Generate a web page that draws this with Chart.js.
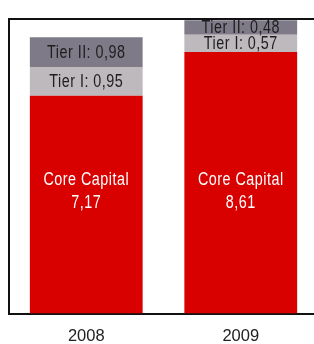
<!DOCTYPE html>
<html>
<head>
<meta charset="utf-8">
<script src="https://cdn.jsdelivr.net/npm/chart.js@4/dist/chart.umd.min.js"></script>
<style>
  html, body { margin: 0; padding: 0; background: #fff; overflow: hidden; }
  #wrap { width: 314px; height: 344px; overflow: hidden; }
</style>
</head>
<body>
<div id="wrap"><canvas id="chart" width="318" height="344"></canvas></div>
<script>
const years = ["2008", "2009"];
const coreCapital = [7.17, 8.61];
const tierOne = [0.95, 0.57];
const tierTwo = [0.98, 0.48];
const seriesNames = ["Core Capital", "Tier I", "Tier II"];

const FONT = "'Liberation Sans', Arial, sans-serif";

function fmt(v) {
  return v.toFixed(2).replace(".", ",");
}

// squeezed text, the original uses a narrow face
function narrowText(ctx, txt, x, y) {
  ctx.save();
  ctx.translate(x, y);
  ctx.scale(0.82, 1);
  ctx.fillText(txt, 0, 0);
  ctx.restore();
}

// labels inside the stacked segments + frame line on top
const labelPlugin = {
  id: "segLabels",
  afterDatasetsDraw(chart) {
    const ctx = chart.ctx;
    const y = chart.scales.y;
    ctx.save();
    ctx.textAlign = "center";
    ctx.textBaseline = "middle";
    ctx.font = "17.5px " + FONT;
    if ("letterSpacing" in ctx) ctx.letterSpacing = "0.6px";

    chart.data.datasets.forEach((ds, di) => {
      const meta = chart.getDatasetMeta(di);
      meta.data.forEach((bar, i) => {
        const v = ds.data[i];
        if (di === 0) {
          ctx.fillStyle = "#ffffff";
          narrowText(ctx, ds.label, bar.x, y.getPixelForValue(4.4));
          narrowText(ctx, fmt(v), bar.x, y.getPixelForValue(3.62));
        } else {
          ctx.fillStyle = "#1e1e1e";
          const mid = (bar.y + bar.base) / 2;
          narrowText(ctx, ds.label + ": " + fmt(v), bar.x, mid + 1);
        }
      });
    });
    ctx.restore();
  },
  afterDraw(chart) {
    const ctx = chart.ctx;
    const a = chart.chartArea;
    ctx.save();
    ctx.strokeStyle = "#111";
    ctx.lineWidth = 2;
    ctx.beginPath();
    ctx.moveTo(a.left - 1, a.top);
    ctx.lineTo(chart.width, a.top);
    ctx.stroke();
    ctx.restore();
  }
};

new Chart(document.getElementById("chart"), {
  type: "bar",
  data: {
    labels: years,
    datasets: [
      { label: seriesNames[0], data: coreCapital, backgroundColor: "#d90000" },
      { label: seriesNames[1], data: tierOne, backgroundColor: "#bdb9bc" },
      { label: seriesNames[2], data: tierTwo, backgroundColor: "#7f7a88" }
    ]
  },
  options: {
    responsive: false,
    animation: false,
    categoryPercentage: 1,
    barPercentage: 0.73,
    layout: { padding: { left: 9, top: 19, right: 0, bottom: -14.8 } },
    plugins: {
      legend: { display: false },
      tooltip: { enabled: false }
    },
    scales: {
      x: {
        stacked: true,
        grid: { display: false, drawTicks: false },
        border: { display: true, color: "#111", width: 2 },
        ticks: {
          color: "#222",
          padding: 16,
          font: { family: FONT, size: 16.5, lineHeight: 0.8 }
        }
      },
      y: {
        stacked: true,
        min: 0,
        max: 9.7,
        grid: { display: false, drawTicks: false },
        border: { display: true, color: "#111", width: 2 },
        ticks: { display: false }
      }
    }
  },
  plugins: [labelPlugin]
});
</script>
</body>
</html>
